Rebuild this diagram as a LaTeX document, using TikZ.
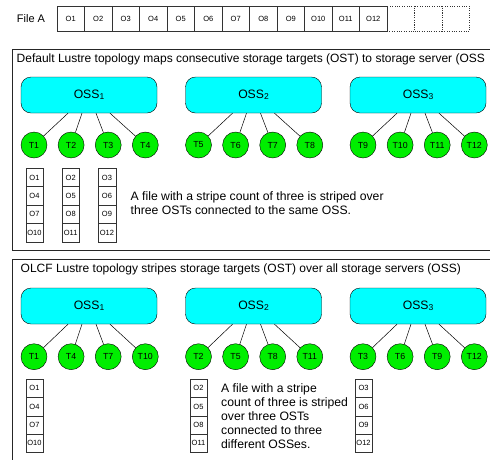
\documentclass[tikz,border=0pt]{standalone}
\usepackage{fontspec}
\setmainfont{Liberation Sans}
\usetikzlibrary{positioning}
\definecolor{osscyan}{RGB}{0,255,255}
\definecolor{ostgreen}{RGB}{0,238,0}

\begin{document}
\begin{tikzpicture}[
        x=1pt, y=-1pt,
        node distance=10.7pt,
        panel/.style={rectangle, draw=black!85, line width=0.9pt, anchor=north west},
        title/.style={anchor=west, inner sep=0pt, font=\fontsize{12}{14}\selectfont},
        oss/.style={rectangle, draw, fill=osscyan, rounded corners=10pt, minimum width=136pt,
                    minimum height=36pt, font=\fontsize{12.2}{14}\selectfont},
        ost/.style={circle, draw, fill=ostgreen, minimum size=26pt, inner sep=0pt,
                    font=\fontsize{8.8}{10}\selectfont},
        cell/.style={rectangle, draw=black!80, fill=white, minimum width=17.6pt, minimum height=18.35pt,
                     inner sep=0pt, outer sep=0pt, font=\fontsize{7.5}{9}\selectfont},
        fcell/.style={rectangle, draw=black!80, minimum width=27.5pt, minimum height=25pt,
                      inner sep=0pt, outer sep=0pt, font=\fontsize{7.5}{9}\selectfont},
        ghost/.style={fcell, dotted},
        link/.style={draw, line width=0.5pt},
        note/.style={anchor=west, align=left, inner sep=0pt, font=\fontsize{12.2}{14}\selectfont}
    ]
    \useasboundingbox[fill=white] (0,0) rectangle (490,459);

    %% File A
    \node[font=\fontsize{11}{13}\selectfont] (filea) at (31,18.5) {File A};
    \node[fcell] (f1) at (70.75,18.5) {O1};
    \node[fcell, right=0pt of f1]  (f2)  {O2};
    \node[fcell, right=0pt of f2]  (f3)  {O3};
    \node[fcell, right=0pt of f3]  (f4)  {O4};
    \node[fcell, right=0pt of f4]  (f5)  {O5};
    \node[fcell, right=0pt of f5]  (f6)  {O6};
    \node[fcell, right=0pt of f6]  (f7)  {O7};
    \node[fcell, right=0pt of f7]  (f8)  {O8};
    \node[fcell, right=0pt of f8]  (f9)  {O9};
    \node[fcell, right=0pt of f9]  (f10) {O10};
    \node[fcell, right=0pt of f10] (f11) {O11};
    \node[fcell, right=0pt of f11] (f12) {O12};
    \node[ghost, right=0pt of f12] (e1) {};
    \node[ghost, right=0pt of e1]  (e2) {};
    \node[ghost, right=0pt of e2]  (e3) {};

    %% PANEL 1: Default Lustre topology
    \node[panel, minimum width=480pt, minimum height=201pt] (sec1) at (12,49) {};
    \node[title] (title1) at (16.5,59)
          {Default Lustre topology maps consecutive storage targets (OST) to storage server (OSS};

    \node[oss] (defoss1) at (89,95)    {OSS\raisebox{-0.8pt}{\fontsize{8.5}{9}\selectfont 1}};
    \node[oss] (defoss2) at (253.5,95) {OSS\raisebox{-0.8pt}{\fontsize{8.5}{9}\selectfont 2}};
    \node[oss] (defoss3) at (418,95)   {OSS\raisebox{-0.8pt}{\fontsize{8.5}{9}\selectfont 3}};

    \node[ost] (deft1) at (34,145) {T1};
    \node[ost, right=of deft1]  (deft2)  {T2};
    \node[ost, right=of deft2]  (deft3)  {T3};
    \node[ost, right=of deft3]  (deft4)  {T4};
    \node[ost] (deft5) at (198.5,145) {T5};
    \node[ost, right=of deft5]  (deft6)  {T6};
    \node[ost, right=of deft6]  (deft7)  {T7};
    \node[ost, right=of deft7]  (deft8)  {T8};
    \node[ost] (deft9) at (363,145) {T9};
    \node[ost, right=of deft9]  (deft10) {T10};
    \node[ost, right=of deft10] (deft11) {T11};
    \node[ost, right=of deft11] (deft12) {T12};

    \draw[link] ([xshift=-21pt]defoss1.south) -- (deft1) ([xshift=-7pt]defoss1.south) -- (deft2)
                ([xshift=7pt]defoss1.south) -- (deft3)   ([xshift=21pt]defoss1.south) -- (deft4);
    \draw[link] ([xshift=-21pt]defoss2.south) -- (deft5) ([xshift=-7pt]defoss2.south) -- (deft6)
                ([xshift=7pt]defoss2.south) -- (deft7)   ([xshift=21pt]defoss2.south) -- (deft8);
    \draw[link] ([xshift=-21pt]defoss3.south) -- (deft9) ([xshift=-7pt]defoss3.south) -- (deft10)
                ([xshift=7pt]defoss3.south) -- (deft11)  ([xshift=21pt]defoss3.south) -- (deft12);

    \node[cell] (defo1) at (34.5,177.5) {O1};
    \node[cell, below=0pt of defo1] (defo4)  {O4};
    \node[cell, below=0pt of defo4] (defo7)  {O7};
    \node[cell, below=0pt of defo7] (defo10) {O10};
    \node[cell] (defo2) at (70.7,177.5) {O2};
    \node[cell, below=0pt of defo2] (defo5)  {O5};
    \node[cell, below=0pt of defo5] (defo8)  {O8};
    \node[cell, below=0pt of defo8] (defo11) {O11};
    \node[cell] (defo3) at (107,177.5) {O3};
    \node[cell, below=0pt of defo3] (defo6)  {O6};
    \node[cell, below=0pt of defo6] (defo9)  {O9};
    \node[cell, below=0pt of defo9] (defo12) {O12};

    \node[note] (defnote) at (130.5,203)
          {A file with a stripe count of three is striped over\\three OSTs connected to the same OSS.};

    %% PANEL 2: OLCF Lustre topology
    \node[panel, minimum width=480pt, minimum height=203pt] (sec2) at (12,259) {};
    \node[title] (title2) at (20.5,269)
          {OLCF Lustre topology stripes storage targets (OST) over all storage servers (OSS)};

    \node[oss] (olcfoss1) at (89,306)    {OSS\raisebox{-0.8pt}{\fontsize{8.5}{9}\selectfont 1}};
    \node[oss] (olcfoss2) at (253.5,306) {OSS\raisebox{-0.8pt}{\fontsize{8.5}{9}\selectfont 2}};
    \node[oss] (olcfoss3) at (418,306)   {OSS\raisebox{-0.8pt}{\fontsize{8.5}{9}\selectfont 3}};

    \node[ost] (olcft1) at (34,356.7) {T1};
    \node[ost, right=of olcft1]  (olcft4)  {T4};
    \node[ost, right=of olcft4]  (olcft7)  {T7};
    \node[ost, right=of olcft7]  (olcft10) {T10};
    \node[ost] (olcft2) at (198.5,356.7) {T2};
    \node[ost, right=of olcft2]  (olcft5)  {T5};
    \node[ost, right=of olcft5]  (olcft8)  {T8};
    \node[ost, right=of olcft8]  (olcft11) {T11};
    \node[ost] (olcft3) at (363,356.7) {T3};
    \node[ost, right=of olcft3]  (olcft6)  {T6};
    \node[ost, right=of olcft6]  (olcft9)  {T9};
    \node[ost, right=of olcft9]  (olcft12) {T12};

    \draw[link] ([xshift=-21pt]olcfoss1.south) -- (olcft1) ([xshift=-7pt]olcfoss1.south) -- (olcft4)
                ([xshift=7pt]olcfoss1.south) -- (olcft7)   ([xshift=21pt]olcfoss1.south) -- (olcft10);
    \draw[link] ([xshift=-21pt]olcfoss2.south) -- (olcft2) ([xshift=-7pt]olcfoss2.south) -- (olcft5)
                ([xshift=7pt]olcfoss2.south) -- (olcft8)   ([xshift=21pt]olcfoss2.south) -- (olcft11);
    \draw[link] ([xshift=-21pt]olcfoss3.south) -- (olcft3) ([xshift=-7pt]olcfoss3.south) -- (olcft6)
                ([xshift=7pt]olcfoss3.south) -- (olcft9)   ([xshift=21pt]olcfoss3.south) -- (olcft12);

    \node[cell] (olcfo1) at (34.5,388.2) {O1};
    \node[cell, below=0pt of olcfo1] (olcfo4)  {O4};
    \node[cell, below=0pt of olcfo4] (olcfo7)  {O7};
    \node[cell, below=0pt of olcfo7] (olcfo10) {O10};
    \node[cell] (olcfo2) at (198.5,388.2) {O2};
    \node[cell, below=0pt of olcfo2] (olcfo5)  {O5};
    \node[cell, below=0pt of olcfo5] (olcfo8)  {O8};
    \node[cell, below=0pt of olcfo8] (olcfo11) {O11};
    \node[cell] (olcfo3) at (363.5,388.2) {O3};
    \node[cell, below=0pt of olcfo3] (olcfo6)  {O6};
    \node[cell, below=0pt of olcfo6] (olcfo9)  {O9};
    \node[cell, below=0pt of olcfo9] (olcfo12) {O12};

    \node[note] (olcfnote) at (221,416)
          {A file with a stripe\\count of three is striped\\over three OSTs\\connected to three\\different OSSes.};

\end{tikzpicture}
\end{document}
